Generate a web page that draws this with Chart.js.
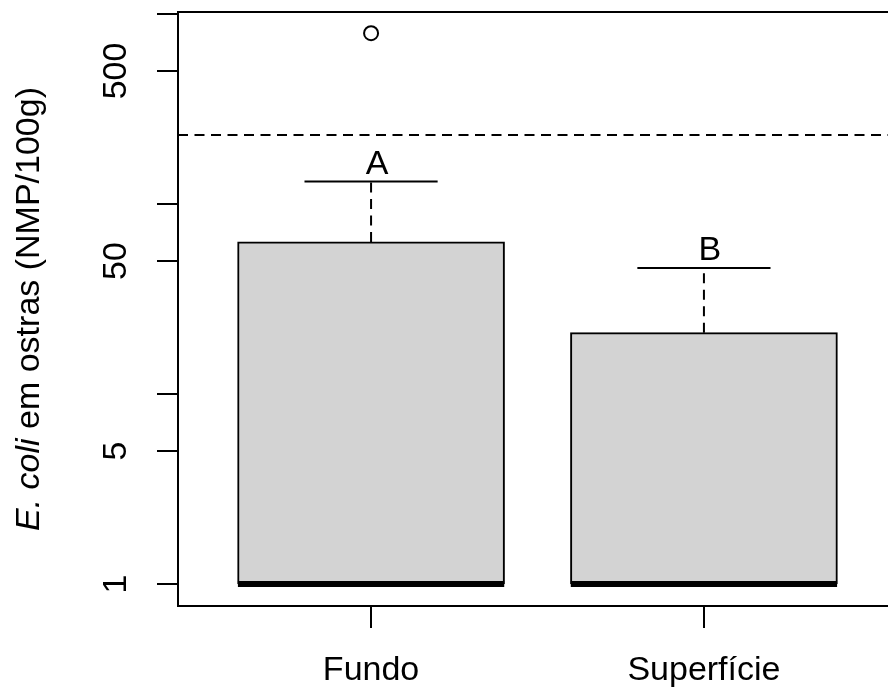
<!DOCTYPE html>
<html>
<head>
<meta charset="utf-8">
<script src="https://cdn.jsdelivr.net/npm/chart.js@4"></script>
<style>
html, body { margin: 0; padding: 0; overflow: hidden; background: #fff; }
#wrap { width: 906px; height: 687px; }
</style>
</head>
<body>
<div id="wrap"><canvas id="c" width="906" height="687"></canvas></div>
<script>
// ---- data ----
const categories = ['Fundo', 'Superfície'];
const groupPositions = [1, 2];
const lowerWhisker = [1, 1];
const q1 = [1, 1];
const medians = [1, 1];
const q3 = [63, 21];
const upperWhisker = [131, 46];
const outlierGroups = [1];
const outlierValues = [790];
const groupLetters = ['A', 'B'];
const limitValue = 230;
const yTickValues = [1, 5, 10, 50, 100, 500, 1000];
const yTickLabels = [1, 5, 50, 500];
const yTitleItalic = 'E. coli';
const yTitleRest = ' em ostras (NMP/100g)';

// ---- styling constants ----
const FAMILY = '"Liberation Sans", Arial, Helvetica, sans-serif';
const FS = 34;
const BOX_HALF = 0.4;
const CAP_HALF = 0.2;
const X_MIN = 0.42, X_MAX = 2.58;
const Y_MIN = 0.766, Y_MAX = 1021;

const datasets = [];

// boxes
datasets.push({
  type: 'bar',
  order: 10,
  data: groupPositions.map((p, i) => ({ x: p, y: [q1[i], q3[i]] })),
  backgroundColor: '#d3d3d3',
  borderColor: '#000',
  borderWidth: 2,
  borderSkipped: false,
  barThickness: 267
});

groupPositions.forEach((p, i) => {
  // median
  datasets.push({
    type: 'line', order: 1,
    data: [{ x: p - BOX_HALF, y: medians[i] }, { x: p + BOX_HALF, y: medians[i] }],
    borderColor: '#000', borderWidth: 6, pointRadius: 0, fill: false, tension: 0
  });
  // upper whisker (dashed)
  datasets.push({
    type: 'line', order: 2,
    data: [{ x: p, y: q3[i] }, { x: p, y: upperWhisker[i] }],
    borderColor: '#000', borderWidth: 2, borderDash: [10, 6.5], pointRadius: 0, fill: false, tension: 0
  });
  // upper cap
  datasets.push({
    type: 'line', order: 2,
    data: [{ x: p - CAP_HALF, y: upperWhisker[i] }, { x: p + CAP_HALF, y: upperWhisker[i] }],
    borderColor: '#000', borderWidth: 2, pointRadius: 0, fill: false, tension: 0
  });
  // lower whisker (collapses at 1)
  if (lowerWhisker[i] < q1[i]) {
    datasets.push({
      type: 'line', order: 2,
      data: [{ x: p, y: q1[i] }, { x: p, y: lowerWhisker[i] }],
      borderColor: '#000', borderWidth: 2, borderDash: [10, 6.5], pointRadius: 0, fill: false
    });
  }
});

// outliers
datasets.push({
  type: 'scatter', order: 0,
  data: outlierGroups.map((g, i) => ({ x: g, y: outlierValues[i] })),
  pointStyle: 'circle', pointRadius: 7, borderWidth: 2,
  borderColor: '#000', backgroundColor: 'rgba(0,0,0,0)'
});

// limit line
datasets.push({
  type: 'line', order: 3,
  data: [{ x: X_MIN, y: limitValue }, { x: X_MAX, y: limitValue }],
  borderColor: '#000', borderWidth: 2, borderDash: [10, 6.5], pointRadius: 0, fill: false, tension: 0
});

const rPlugin = {
  id: 'rstyle',
  afterDraw(chart) {
    const { ctx, chartArea: a, scales: { x, y } } = chart;
    ctx.save();
    // frame
    ctx.strokeStyle = '#000';
    ctx.lineWidth = 2;
    ctx.strokeRect(a.left, a.top, a.right - a.left, a.bottom - a.top);
    // letters
    ctx.fillStyle = '#000';
    ctx.font = FS + 'px ' + FAMILY;
    ctx.textAlign = 'center';
    ctx.textBaseline = 'alphabetic';
    groupLetters.forEach((t, i) => {
      ctx.fillText(t, x.getPixelForValue(groupPositions[i]) + 6, y.getPixelForValue(upperWhisker[i]) - 8);
    });
    // y title
    const fItal = 'italic ' + FS + 'px ' + FAMILY;
    const fReg = FS + 'px ' + FAMILY;
    ctx.font = fItal; const w1 = ctx.measureText(yTitleItalic).width;
    ctx.font = fReg; const w2 = ctx.measureText(yTitleRest).width;
    const cy = (a.top + a.bottom) / 2;
    ctx.translate(39, cy);
    ctx.rotate(-Math.PI / 2);
    ctx.textAlign = 'left';
    const start = -(w1 + w2) / 2;
    ctx.font = fItal; ctx.fillText(yTitleItalic, start, 0);
    ctx.font = fReg; ctx.fillText(yTitleRest, start + w1, 0);
    ctx.restore();
  }
};

new Chart(document.getElementById('c'), {
  type: 'bar',
  data: { datasets },
  plugins: [rPlugin],
  options: {
    responsive: false,
    animation: false,
    events: [],
    layout: { padding: { top: 12, right: 4, bottom: 0, left: 0 } },
    plugins: { legend: { display: false }, tooltip: { enabled: false } },
    scales: {
      x: {
        type: 'linear', min: X_MIN, max: X_MAX, offset: false,
        afterBuildTicks: s => { s.ticks = groupPositions.map(v => ({ value: v })); },
        afterFit: s => { s.height = 81; s.paddingLeft = 0; s.paddingRight = 0; },
        grid: { offset: false, drawOnChartArea: false, drawTicks: true, tickLength: 22, color: '#000', lineWidth: 2 },
        border: { display: false },
        ticks: {
          callback: (v, i) => categories[i],
          font: { size: FS, family: FAMILY }, color: '#000',
          padding: 22, maxRotation: 0, minRotation: 0, autoSkip: false
        }
      },
      y: {
        type: 'logarithmic', min: Y_MIN, max: Y_MAX,
        afterBuildTicks: s => { s.ticks = yTickValues.map(v => ({ value: v })); },
        afterFit: s => { s.width = 178; s.paddingTop = 0; s.paddingBottom = 0; },
        grid: { offset: false, drawOnChartArea: false, drawTicks: true, tickLength: 21, color: '#000', lineWidth: 2 },
        border: { display: false },
        ticks: {
          callback: v => yTickLabels.includes(v) ? String(v) : '',
          font: { size: FS, family: FAMILY }, color: '#000',
          minRotation: 90, maxRotation: 90, crossAlign: 'center',
          padding: 12, autoSkip: false
        }
      }
    }
  }
});
</script>
</body>
</html>
